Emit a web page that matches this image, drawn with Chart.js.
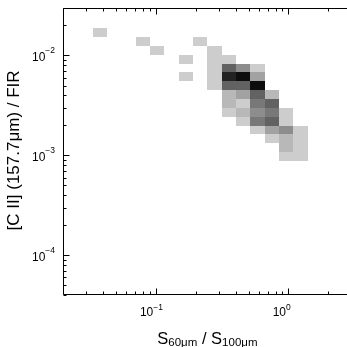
<!DOCTYPE html>
<html>
<head>
<meta charset="utf-8">
<script src="https://cdn.jsdelivr.net/npm/chart.js@4.4.1/dist/chart.umd.min.js"></script>
<style>
  html, body { margin: 0; padding: 0; background: #fff; overflow: hidden; width: 347px; height: 347px; }
  #wrap { width: 360px; height: 347px; }
  canvas { display: block; }
</style>
</head>
<body>
<div id="wrap"><canvas id="chart" width="360" height="347"></canvas></div>
<script>
// Bin edges of the 2-D histogram (log-spaced)
const ratioEdges = [0.0335, 0.04295, 0.05506, 0.07059, 0.09049, 0.1160, 0.1487, 0.1907,
                    0.2445, 0.3133, 0.4018, 0.5151, 0.6603, 0.8467, 1.0854, 1.3915];   // S60/S100
const ciiEdges   = [0.01879, 0.01532, 0.01249, 0.01018, 0.008302, 0.006768, 0.005518, 0.004498,
                    0.003667, 0.002990, 0.002438, 0.001987, 0.001620, 0.001321, 0.001077, 0.000878]; // [C II]/FIR

// Occupied cells: column index into ratioEdges, row index into ciiEdges, number of galaxies
const cellCol   = [0, 3, 7, 4, 8, 6, 8, 9, 8, 9, 10, 11, 6, 8, 9, 10, 11, 8, 9, 10, 11,
                   9, 10, 11, 12, 9, 10, 11, 12, 9, 10, 11, 12, 13, 10, 11, 12, 13,
                   11, 12, 13, 14, 12, 13, 14, 13, 14, 13, 14];
const cellRow   = [0, 1, 1, 2, 2, 3, 3, 3, 4, 4, 4, 4, 5, 5, 5, 5, 5, 6, 6, 6, 6,
                   7, 7, 7, 7, 8, 8, 8, 8, 9, 9, 9, 9, 9, 10, 10, 10, 10,
                   11, 11, 11, 11, 12, 12, 12, 13, 13, 14, 14];
const cellCount = [1, 1, 1, 1, 1, 1, 1, 1, 1, 6, 4, 1, 1, 1, 9, 10, 3, 1, 6, 6, 10,
                   2, 3, 6, 2, 2, 1, 5, 6, 1, 2, 4, 5, 1, 1, 5, 6, 1,
                   1, 3, 4, 1, 1, 2, 1, 2, 1, 1, 1];

// Labelled decades
const xMajorTicks = [0.1, 1];
const xTickExponents = ['\u22121', '0'];
const yMajorTicks = [1e-4, 1e-3, 1e-2];
const yTickExponents = ['\u22124', '\u22123', '\u22122'];

const xTitle = [['S', 0], ['60\u03bcm', 1], [' / S', 0], ['100\u03bcm', 1]];
const yTitle = '[C II] (157.7\u03bcm) / FIR';

const X_MIN = 0.02, X_MAX = 3, Y_MIN = 4e-5, Y_MAX = 0.03;
const FONT = '"Liberation Sans", Arial, Helvetica, sans-serif';

const cells = cellCol.map((c, i) => ({
  x: Math.sqrt(ratioEdges[c] * ratioEdges[c + 1]),
  y: Math.sqrt(ciiEdges[cellRow[i]] * ciiEdges[cellRow[i] + 1]),
  x0: ratioEdges[c], x1: ratioEdges[c + 1],
  y0: ciiEdges[cellRow[i]], y1: ciiEdges[cellRow[i] + 1],
  n: cellCount[i]
}));

function countToGray(n) {
  const g = Math.max(0, Math.round(205 - (n - 1) * 21.33));
  return `rgb(${g},${g},${g})`;
}

function logTickValues(min, max) {
  const out = [];
  for (let e = Math.floor(Math.log10(min)); e <= Math.ceil(Math.log10(max)); e++) {
    for (let m = 1; m <= 9; m++) {
      const v = m * Math.pow(10, e);
      if (v >= min * 0.999 && v <= max * 1.001) out.push({ v, major: m === 1 });
    }
  }
  return out;
}

const hist2d = {
  id: 'hist2d',
  beforeDatasetsDraw(chart) {
    const { ctx, chartArea: a } = chart;
    const xs = chart.scales.x, ys = chart.scales.y;
    ctx.save();
    ctx.beginPath();
    ctx.rect(a.left, a.top, a.right - a.left, a.bottom - a.top);
    ctx.clip();
    chart.data.datasets[0].data.forEach(c => {
      const px0 = Math.round(xs.getPixelForValue(c.x0));
      const px1 = Math.round(xs.getPixelForValue(c.x1));
      const py0 = Math.round(ys.getPixelForValue(c.y0));
      const py1 = Math.round(ys.getPixelForValue(c.y1));
      ctx.fillStyle = countToGray(c.n);
      ctx.fillRect(Math.min(px0, px1), Math.min(py0, py1), Math.abs(px1 - px0), Math.abs(py1 - py0));
    });
    ctx.restore();
  },
  afterDraw(chart) {
    const { ctx, chartArea: a } = chart;
    const xs = chart.scales.x, ys = chart.scales.y;
    const L = Math.round(a.left) + 0.5, T = Math.round(a.top) + 0.5, B = Math.round(a.bottom) - 0.5;
    ctx.save();
    ctx.strokeStyle = '#000';
    ctx.lineWidth = 1;
    // frame
    ctx.beginPath();
    ctx.moveTo(a.right + 5, T); ctx.lineTo(L, T); ctx.lineTo(L, B); ctx.lineTo(a.right + 5, B);
    ctx.stroke();
    // inward ticks
    ctx.beginPath();
    logTickValues(X_MIN, X_MAX).forEach(t => {
      const px = Math.round(xs.getPixelForValue(t.v)) + 0.5;
      const len = t.major ? 6 : 3;
      ctx.moveTo(px, B); ctx.lineTo(px, B - len);
      ctx.moveTo(px, T); ctx.lineTo(px, T + len);
    });
    logTickValues(Y_MIN, Y_MAX).forEach(t => {
      const py = Math.round(ys.getPixelForValue(t.v)) + 0.5;
      const len = t.major ? 6 : 3;
      ctx.moveTo(L, py); ctx.lineTo(L + len, py);
    });
    ctx.stroke();

    ctx.fillStyle = '#000';
    const big = `12px ${FONT}`, small = `8.5px ${FONT}`;
    // x tick labels
    xMajorTicks.forEach((v, i) => {
      const px = xs.getPixelForValue(v);
      ctx.font = big; ctx.textAlign = 'right'; ctx.textBaseline = 'alphabetic';
      ctx.fillText('10', px - 2.5, B + 21);
      ctx.font = small; ctx.textAlign = 'left';
      ctx.fillText(xTickExponents[i], px - 2.5, B + 15.5);
    });
    // y tick labels
    yMajorTicks.forEach((v, i) => {
      const py = ys.getPixelForValue(v);
      ctx.font = small; ctx.textAlign = 'right'; ctx.textBaseline = 'alphabetic';
      const ew = ctx.measureText(yTickExponents[i]).width;
      ctx.fillText(yTickExponents[i], a.left - 8, py - 2.2);
      ctx.font = big;
      ctx.fillText('10', a.left - 8 - ew, py + 5.8);
    });

    // x title with subscripts, centred under the plot area
    const bigT = `16.5px ${FONT}`, subT = `11.5px ${FONT}`;
    let w = 0;
    xTitle.forEach(([s, sub]) => { ctx.font = sub ? subT : bigT; w += ctx.measureText(s).width; });
    let cx = (a.left + a.right) / 2 - w / 2;
    ctx.textAlign = 'left';
    xTitle.forEach(([s, sub]) => {
      ctx.font = sub ? subT : bigT;
      ctx.fillText(s, cx, sub ? 345.5 : 343.5);
      cx += ctx.measureText(s).width;
    });

    // y title, rotated
    ctx.translate(14.5, (a.top + a.bottom) / 2 - 1);
    ctx.rotate(-Math.PI / 2);
    ctx.font = `17px ${FONT}`;
    ctx.textAlign = 'center'; ctx.textBaseline = 'middle';
    ctx.fillText(yTitle, 0, 0);
    ctx.restore();
  }
};

new Chart(document.getElementById('chart'), {
  type: 'scatter',
  data: { datasets: [{ data: cells, pointRadius: 0, pointHoverRadius: 0, showLine: false }] },
  options: {
    responsive: false,
    animation: false,
    devicePixelRatio: 1,
    events: [],
    layout: { padding: { top: 7.8, right: 8.2, left: 0, bottom: 0 } },
    plugins: { legend: { display: false }, tooltip: { enabled: false } },
    scales: {
      x: {
        type: 'logarithmic', min: X_MIN, max: X_MAX,
        grid: { display: false }, border: { display: false },
        ticks: { display: false },
        afterFit: s => { s.height = 52; }
      },
      y: {
        type: 'logarithmic', min: Y_MIN, max: Y_MAX,
        grid: { display: false }, border: { display: false },
        ticks: { display: false },
        afterFit: s => { s.width = 63; }
      }
    }
  },
  plugins: [hist2d]
});
</script>
</body>
</html>
